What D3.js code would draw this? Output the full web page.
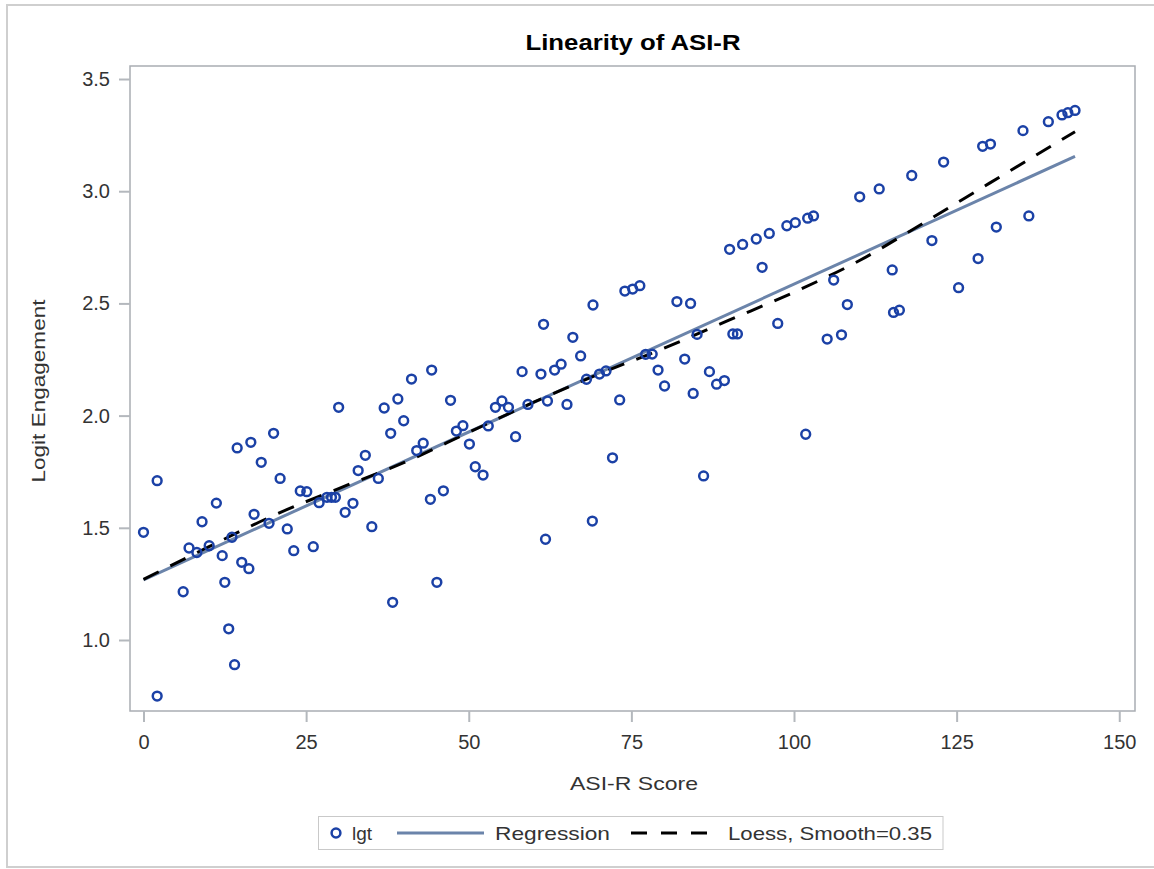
<!DOCTYPE html>
<html>
<head>
<meta charset="utf-8">
<script src="https://cdn.jsdelivr.net/npm/d3@7"></script>
<style>
  html, body { margin: 0; padding: 0; background: #fff; }
  svg { display: block; font-family: "Liberation Sans", Arial, sans-serif; }
</style>
</head>
<body>
<svg id="chart" width="1154" height="869"></svg>
<script>
// ---- Data ----
const asiX = [0, 2.1, 2.1, 6.1, 7.0, 8.2, 9.0, 10.1, 11.2, 12.1, 12.5, 13.1, 13.6, 14.0, 14.4, 15.1, 16.2, 16.5, 17.0, 18.1,
  19.3, 20.0, 21.0, 22.1, 23.1, 24.1, 25.1, 26.1, 27.0, 28.2, 28.9, 29.5, 30.0, 31.0, 32.2, 33.0, 34.1, 35.1, 36.1, 37.0,
  38.0, 38.3, 39.1, 40.0, 41.2, 42.0, 43.0, 44.1, 44.3, 45.1, 46.1, 47.2, 48.1, 49.1, 50.1, 51.0, 52.2, 53.0, 54.1, 55.1,
  56.1, 57.2, 58.2, 59.1, 61.1, 61.5, 61.8, 62.1, 63.2, 64.2, 65.1, 66.0, 67.2, 68.1, 69.0, 69.1, 70.1, 71.1, 72.1, 73.2,
  74.0, 75.2, 76.3, 77.2, 78.2, 79.1, 80.1, 82.0, 83.2, 84.1, 84.5, 85.1, 86.1, 87.0, 88.1, 89.3, 90.1, 90.6, 91.3, 92.1,
  94.2, 95.1, 96.2, 97.5, 98.9, 100.2, 101.8, 102.1, 103.0, 105.1, 106.1, 107.3, 108.2, 110.1, 113.1, 115.1, 115.3, 116.2, 118.1, 121.2,
  123.0, 125.3, 128.3, 129.0, 130.2, 131.1, 135.2, 136.1, 139.1, 141.2, 142.1, 143.2];
const lgt = [1.48, 1.71, 0.75, 1.215, 1.41, 1.39, 1.527, 1.42, 1.61, 1.376, 1.257, 1.05, 1.458, 0.89, 1.856, 1.346, 1.318, 1.881, 1.56, 1.792,
  1.52, 1.921, 1.72, 1.495, 1.398, 1.664, 1.661, 1.416, 1.612, 1.636, 1.636, 1.636, 2.037, 1.569, 1.609, 1.755, 1.823, 1.505, 1.72, 2.034,
  1.921, 1.168, 2.074, 1.977, 2.163, 1.844, 1.877, 1.627, 2.203, 1.257, 1.665, 2.068, 1.931, 1.955, 1.873, 1.772, 1.735, 1.954, 2.037, 2.065,
  2.037, 1.906, 2.196, 2.05, 2.185, 2.407, 1.449, 2.065, 2.203, 2.229, 2.05, 2.349, 2.266, 2.162, 1.53, 2.493, 2.185, 2.199, 1.812, 2.07,
  2.555, 2.564, 2.579, 2.273, 2.274, 2.203, 2.132, 2.508, 2.252, 2.5, 2.099, 2.362, 1.731, 2.196, 2.14, 2.156, 2.741, 2.364, 2.364, 2.763,
  2.787, 2.661, 2.812, 2.411, 2.846, 2.86, 1.917, 2.88, 2.89, 2.341, 2.604, 2.36, 2.495, 2.975, 3.01, 2.649, 2.46, 2.47, 3.07, 2.78,
  3.13, 2.57, 2.70, 3.20, 3.21, 2.84, 3.27, 2.89, 3.31, 3.34, 3.35, 3.36];

const regX = [0, 143.2];
const regY = [1.268, 3.155];

const loessX = [0, 10, 20, 30, 40, 50, 60, 70, 80, 90, 100, 110, 120, 130, 143.2];
const loessY = [1.27, 1.415, 1.555, 1.675, 1.79, 1.925, 2.06, 2.185, 2.30, 2.425, 2.55, 2.69, 2.86, 3.035, 3.265];

const xTicks = [0, 25, 50, 75, 100, 125, 150];
const yTicks = [1.0, 1.5, 2.0, 2.5, 3.0, 3.5];

const titleText = "Linearity of ASI-R";
const xLabel = "ASI-R Score";
const yLabel = "Logit Engagement";
const legendLabels = ["lgt", "Regression", "Loess, Smooth=0.35"];

// ---- Layout ----
const svg = d3.select("#chart");
const plot = { left: 130, right: 1135, top: 66, bottom: 711 };
const markerColor = "#1b41a6";
const regColor = "#6b84aa";
const frameColor = "#a9adb3";

const x = d3.scaleLinear().domain([-2.075, 152.42]).range([plot.left, plot.right]);
const y = d3.scaleLinear().domain([0.6836, 3.558]).range([plot.bottom, plot.top]);

// outer border
svg.append("rect").attr("x", 7).attr("y", 5).attr("width", 1160).attr("height", 862)
  .attr("fill", "#fff").attr("stroke", "#cfcfcf").attr("stroke-width", 2);

// title
svg.append("text").attr("class", "stretch").attr("data-w", 215)
  .attr("x", 633).attr("y", 50).attr("text-anchor", "middle")
  .attr("font-size", 22).attr("font-weight", "bold").attr("fill", "#000").text(titleText);

// plot background and frame
svg.append("rect").attr("x", plot.left).attr("y", plot.top)
  .attr("width", plot.right - plot.left).attr("height", plot.bottom - plot.top)
  .attr("fill", "#fff").attr("stroke", frameColor).attr("stroke-width", 1.5);

// axes
const xAxis = d3.axisBottom(x).tickValues(xTicks).tickSize(11).tickPadding(13).tickFormat(d3.format("d"));
const gx = svg.append("g").attr("transform", `translate(0,${plot.bottom})`).call(xAxis);
const yAxis = d3.axisLeft(y).tickValues(yTicks).tickSize(11).tickPadding(9).tickFormat(d3.format(".1f"));
const gy = svg.append("g").attr("transform", `translate(${plot.left},0)`).call(yAxis);
[gx, gy].forEach(g => {
  g.select(".domain").remove();
  g.selectAll(".tick line").attr("stroke", "#b4b8bd").attr("stroke-width", 2);
  g.selectAll(".tick text").attr("font-size", 20).attr("fill", "#333")
    .attr("font-family", "'Liberation Sans', Arial, sans-serif");
});

// axis labels
svg.append("text").attr("class", "stretch").attr("data-w", 128)
  .attr("x", 634).attr("y", 790).attr("text-anchor", "middle")
  .attr("font-size", 19).attr("fill", "#333").text(xLabel);
svg.append("text").attr("class", "stretch").attr("data-w", 183)
  .attr("transform", "translate(45,391) rotate(-90)").attr("text-anchor", "middle")
  .attr("font-size", 19).attr("fill", "#333").text(yLabel);

// clip
svg.append("clipPath").attr("id", "clip").append("rect")
  .attr("x", plot.left).attr("y", plot.top).attr("width", plot.right - plot.left).attr("height", plot.bottom - plot.top);
const pg = svg.append("g").attr("clip-path", "url(#clip)");

// regression line
const regData = regX.map((v, i) => [v, regY[i]]);
pg.append("path").datum(regData)
  .attr("d", d3.line().x(d => x(d[0])).y(d => y(d[1])))
  .attr("fill", "none").attr("stroke", regColor).attr("stroke-width", 3);

// loess curve
const loessData = loessX.map((v, i) => [v, loessY[i]]);
pg.append("path").datum(loessData)
  .attr("d", d3.line().curve(d3.curveMonotoneX).x(d => x(d[0])).y(d => y(d[1])))
  .attr("fill", "none").attr("stroke", "#000").attr("stroke-width", 3)
  .attr("stroke-dasharray", "17,13");

// points
const pts = asiX.map((v, i) => [v, lgt[i]]);
pg.selectAll("circle.pt").data(pts).join("circle").attr("class", "pt")
  .attr("cx", d => x(d[0])).attr("cy", d => y(d[1])).attr("r", 4.4)
  .attr("fill", "none").attr("stroke", markerColor).attr("stroke-width", 2.5);

// legend
const lg = svg.append("g");
lg.append("rect").attr("x", 318.5).attr("y", 816.5).attr("width", 624.5).attr("height", 33)
  .attr("fill", "#fff").attr("stroke", "#c9c9c9").attr("stroke-width", 1);
const ly = 833;
lg.append("circle").attr("cx", 336).attr("cy", ly).attr("r", 4.4)
  .attr("fill", "none").attr("stroke", markerColor).attr("stroke-width", 2.5);
lg.append("text").attr("x", 352).attr("y", ly + 7).attr("font-size", 19).attr("fill", "#333").text(legendLabels[0]);
lg.append("line").attr("x1", 397).attr("x2", 484).attr("y1", ly).attr("y2", ly)
  .attr("stroke", regColor).attr("stroke-width", 3);
lg.append("text").attr("class", "stretch").attr("data-w", 115)
  .attr("x", 495).attr("y", ly + 7).attr("font-size", 19).attr("fill", "#333").text(legendLabels[1]);
lg.append("line").attr("x1", 631).attr("x2", 707).attr("y1", ly).attr("y2", ly)
  .attr("stroke", "#000").attr("stroke-width", 3).attr("stroke-dasharray", "16,14");
lg.append("text").attr("class", "stretch").attr("data-w", 204)
  .attr("x", 728).attr("y", ly + 7).attr("font-size", 19).attr("fill", "#333").text(legendLabels[2]);

// stretch selected texts to the measured widths
svg.selectAll("text.stretch").each(function () {
  const w = +this.getAttribute("data-w");
  this.setAttribute("textLength", w);
  this.setAttribute("lengthAdjust", "spacingAndGlyphs");
});
</script>
</body>
</html>
